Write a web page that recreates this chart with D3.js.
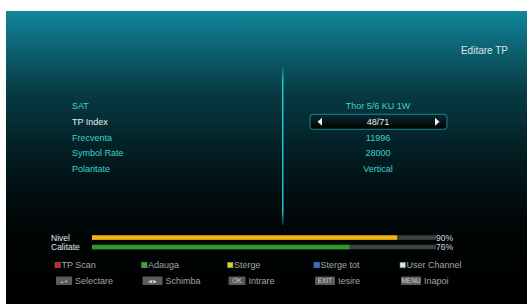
<!DOCTYPE html>
<html>
<head>
<meta charset="utf-8">
<script src="https://cdn.jsdelivr.net/npm/d3@7"></script>
<style>
  html, body { margin: 0; padding: 0; background: #fff; overflow: hidden; }
  svg { display: block; font-family: "Liberation Sans", Arial, sans-serif; }
</style>
</head>
<body>
<svg id="chart" width="540" height="304"></svg>
<script>
// menu rows
const fieldLabels = ['SAT', 'TP Index', 'Frecventa', 'Symbol Rate', 'Polaritate'];
const fieldValues = ['Thor 5/6 KU 1W', '48/71', '11996', '28000', 'Vertical'];

// signal bars
const barNames = ['Nivel', 'Calitate'];
const barLevels = [90, 76];

// help keys
const colorKeys = ['TP Scan', 'Adauga', 'Sterge', 'Sterge tot', 'User Channel'];
const buttonKeys = ['Selectare', 'Schimba', 'Intrare', 'Iesire', 'Inapoi'];
const buttonCaps = ['\u25B2\u25BC', '\u25C0 \u25B6', 'OK', 'EXIT', 'MENU'];

const svg = d3.select('#chart');
const defs = svg.append('defs');

// background gradient for the tv screen
const bg = defs.append('linearGradient')
  .attr('id', 'bg').attr('x1', 0).attr('y1', 0).attr('x2', 0).attr('y2', 1);
bg.append('stop').attr('offset', '0%').attr('stop-color', '#11869b');
bg.append('stop').attr('offset', '14%').attr('stop-color', '#0c5f6e');
bg.append('stop').attr('offset', '28%').attr('stop-color', '#073a43');
bg.append('stop').attr('offset', '50%').attr('stop-color', '#021c20');
bg.append('stop').attr('offset', '72%').attr('stop-color', '#000506');
bg.append('stop').attr('offset', '100%').attr('stop-color', '#000000');

const lineGrad = defs.append('linearGradient')
  .attr('id', 'vline').attr('x1', 0).attr('y1', 0).attr('x2', 0).attr('y2', 1);
lineGrad.append('stop').attr('offset', '0%').attr('stop-color', '#17a6b0').attr('stop-opacity', 0.3);
lineGrad.append('stop').attr('offset', '8%').attr('stop-color', '#1cc6cc');
lineGrad.append('stop').attr('offset', '92%').attr('stop-color', '#1cc6cc');
lineGrad.append('stop').attr('offset', '100%').attr('stop-color', '#17a6b0').attr('stop-opacity', 0.3);

const boxGrad = defs.append('linearGradient')
  .attr('id', 'box').attr('x1', 0).attr('y1', 0).attr('x2', 0).attr('y2', 1);
boxGrad.append('stop').attr('offset', '0%').attr('stop-color', '#0c2a30');
boxGrad.append('stop').attr('offset', '100%').attr('stop-color', '#000000');

svg.append('rect')
  .attr('x', 6).attr('y', 11).attr('width', 534).attr('height', 293)
  .attr('fill', 'url(#bg)');

// title
svg.append('text')
  .attr('x', 508).attr('y', 54)
  .attr('text-anchor', 'end')
  .attr('fill', '#dfe6e8')
  .attr('font-size', 10)
  .text('Editare TP');

// divider
svg.append('rect')
  .attr('x', 282).attr('y', 67).attr('width', 1.5).attr('height', 158)
  .attr('fill', 'url(#vline)');

// rows
const rowY = d3.scalePoint().domain(fieldLabels).range([106, 169]);

svg.append('g').selectAll('text')
  .data(fieldLabels)
  .join('text')
  .attr('x', 72)
  .attr('y', d => rowY(d) + 3)
  .attr('font-size', 9)
  .attr('fill', d => d === 'TP Index' ? '#e8eef0' : '#3fcfcf')
  .text(d => d);

// selection box around TP Index value
const selY = rowY('TP Index');
svg.append('rect')
  .attr('x', 310).attr('y', selY - 7.5).attr('width', 137).attr('height', 15)
  .attr('rx', 3)
  .attr('fill', 'url(#box)')
  .attr('stroke', '#1a8797').attr('stroke-width', 1);
svg.append('path')
  .attr('d', `M317.5,${selY} L322,${selY - 4} L322,${selY + 4} Z`)
  .attr('fill', '#f2f2f2');
svg.append('path')
  .attr('d', `M439.5,${selY} L435,${selY - 4} L435,${selY + 4} Z`)
  .attr('fill', '#f2f2f2');

svg.append('g').selectAll('text')
  .data(fieldValues)
  .join('text')
  .attr('x', 378)
  .attr('y', (d, i) => rowY(fieldLabels[i]) + 3)
  .attr('text-anchor', 'middle')
  .attr('font-size', 9)
  .attr('fill', (d, i) => i === 1 ? '#e8eef0' : '#3fcfcf')
  .text(d => d);

// signal bars
const x = d3.scaleLinear().domain([0, 100]).range([92, 431]);
const barY = d3.scalePoint().domain(barNames).range([237.5, 247]);
const barColors = ['#f2b40e', '#2f9a2a'];

const bars = svg.append('g').selectAll('g')
  .data(barNames)
  .join('g');

bars.append('text')
  .attr('x', 51).attr('y', d => barY(d) + 3)
  .attr('font-size', 8.5)
  .attr('fill', '#e6e6e6')
  .text(d => d);

bars.append('rect')
  .attr('x', x(0)).attr('y', d => barY(d) - 2.2)
  .attr('width', 436 - x(0)).attr('height', 4.5)
  .attr('fill', '#404040');

bars.append('rect')
  .attr('x', x(0)).attr('y', d => barY(d) - 2.2)
  .attr('width', (d, i) => x(barLevels[i]) - x(0)).attr('height', 4.5)
  .attr('fill', (d, i) => barColors[i]);

bars.append('text')
  .attr('x', 436).attr('y', d => barY(d) + 3)
  .attr('font-size', 8.5)
  .attr('fill', '#d8d8d8')
  .text((d, i) => barLevels[i] + '%');

// help legend
const keyX = [55, 141.5, 227.5, 314, 400];
const keyColors = ['#d42020', '#2bb02b', '#e0d020', '#2a6fe0', '#e0e0e0'];

const row1 = svg.append('g').selectAll('g')
  .data(colorKeys)
  .join('g')
  .attr('transform', (d, i) => `translate(${keyX[i]},265)`);

row1.append('rect')
  .attr('x', 0).attr('y', -2.7).attr('width', 5.5).attr('height', 5.5)
  .attr('fill', (d, i) => keyColors[i])
  .attr('stroke', '#777').attr('stroke-width', 0.5);

row1.append('text')
  .attr('x', 6.5).attr('y', 3.2)
  .attr('font-size', 9)
  .attr('fill', '#a4a4a4')
  .text(d => d);

const capW = [16, 20, 17, 20, 20];

const row2 = svg.append('g').selectAll('g')
  .data(buttonKeys)
  .join('g')
  .attr('transform', (d, i) => `translate(${keyX[i] + 1},281)`);

row2.append('rect')
  .attr('x', 0).attr('y', -4.5).attr('width', (d, i) => capW[i]).attr('height', 8.5)
  .attr('rx', 1)
  .attr('fill', '#5a5a5a');

row2.append('text')
  .attr('x', (d, i) => capW[i] / 2).attr('y', (d, i) => i < 2 ? 2 : 2.3)
  .attr('text-anchor', 'middle')
  .attr('font-size', (d, i) => i === 0 ? 4 : (i === 1 ? 5 : 6.5))
  .attr('fill', '#cfcfcf')
  .text((d, i) => buttonCaps[i]);

row2.append('text')
  .attr('x', (d, i) => capW[i] + 3).attr('y', 3.2)
  .attr('font-size', 9)
  .attr('fill', '#a4a4a4')
  .text(d => d);
</script>
</body>
</html>
